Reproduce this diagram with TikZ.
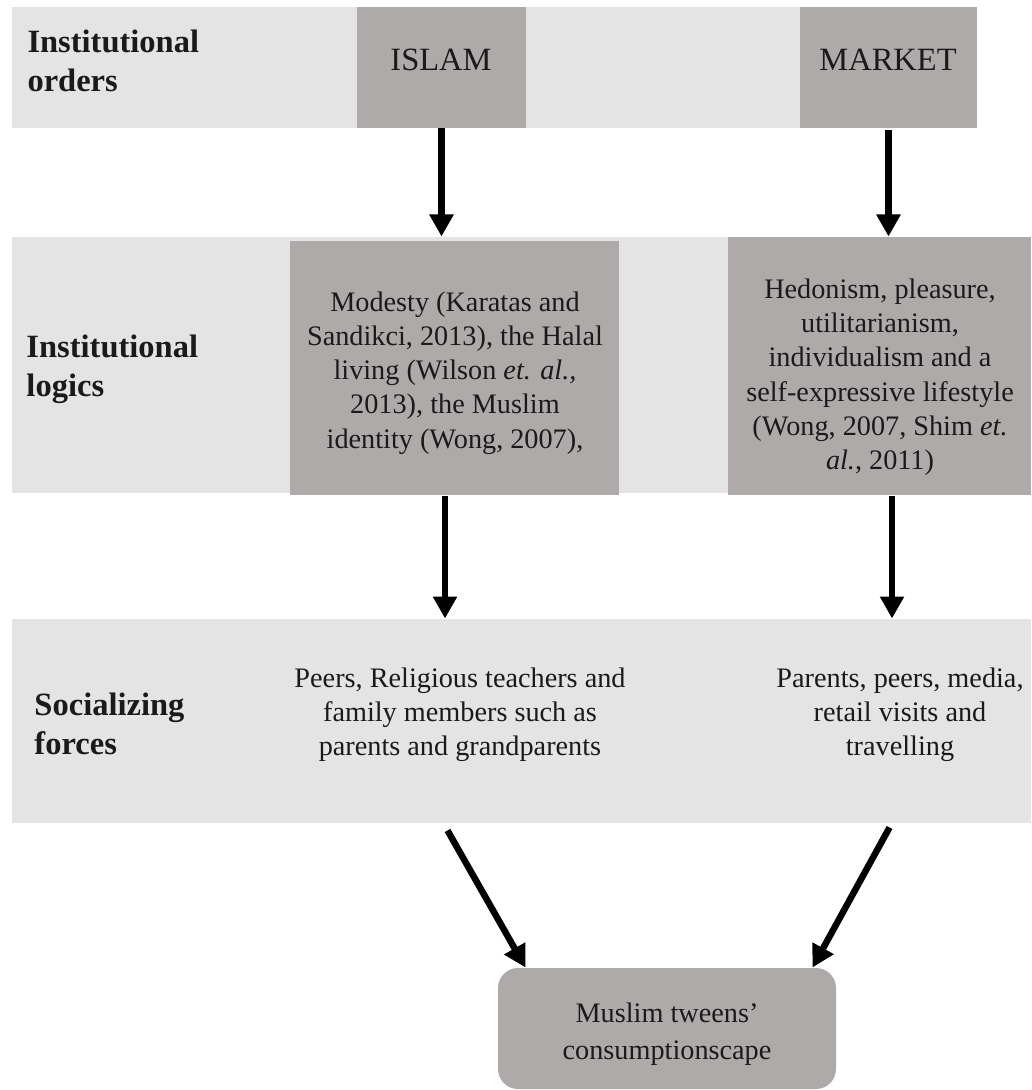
\documentclass[tikz,border=0pt]{standalone}
\usepackage{fontspec}
\setmainfont{Liberation Serif}
\usetikzlibrary{fit,calc,arrows.meta}

\definecolor{bandgray}{HTML}{E4E4E4}
\definecolor{boxgray}{HTML}{AEAAAA}
\definecolor{inkc}{HTML}{1A1A1A}

\tikzset{
  band/.style={inner sep=0pt, fill=bandgray},
  darkbox/.style={inner sep=0pt, fill=boxgray},
  % multi-line texts are placed by the baseline of their last line
  rowlabel/.style={anchor=base west, align=left, inner sep=0pt, text=inkc,
    font=\fontsize{13}{15.6}\selectfont\bfseries},
  ordertext/.style={anchor=base, inner sep=0pt, text=inkc,
    font=\fontsize{13}{15.6}\selectfont},
  bodytext/.style={anchor=base, align=center, inner sep=0pt, text=inkc,
    font=\fontsize{11.3}{13.6}\selectfont},
  arr/.style={-{Triangle[width=9.2pt,length=8.8pt]}, line width=2.6pt, black},
}

\begin{document}
\begin{tikzpicture}[x=0.4pt,y=-0.4pt]
  \useasboundingbox (0,0) rectangle (1031,1090);

  % row bands
  \node[band, fit={(12,7) (977,128)}] (ordband) {};
  \node[band, fit={(12,237) (1031,493)}] (logband) {};
  \node[band, fit={(12,619) (1031,823)}] (socband) {};

  % institutional orders
  \node[darkbox, fit={(357,7) (526,128)}] (islam) {};
  \node[darkbox, fit={(800,7) (977,128)}] (market) {};
  \node[ordertext] (islamtxt) at (441,71) {ISLAM};
  \node[ordertext] (markettxt) at (888,71) {MARKET};

  % institutional logics
  \node[darkbox, fit={(290,241) (619,495)}] (islamlogic) {};
  \node[darkbox, fit={(728,237) (1031,495)}] (marketlogic) {};
  \node[bodytext] (islamlogictxt) at (455,448)
    {Modesty (Karatas and\\Sandikci, 2013), the Halal\\living (Wilson \textit{et. al.,}\\2013), the Muslim\\identity (Wong, 2007),};
  \node[bodytext] (marketlogictxt) at (880,469)
    {Hedonism, pleasure,\\utilitarianism,\\individualism and a\\self-expressive lifestyle\\(Wong, 2007, Shim \textit{et.}\\\textit{al.}, 2011)};

  % socializing forces
  \node[bodytext] (islamsoc) at (460,755)
    {Peers, Religious teachers and\\family members such as\\parents and grandparents};
  \node[bodytext] (marketsoc) at (900,755)
    {Parents, peers, media,\\retail visits and\\travelling};

  % row labels
  \node[rowlabel] (lblorders) at (27,92) {Institutional\\orders};
  \node[rowlabel] (lbllogics) at (26,397) {Institutional\\logics};
  \node[rowlabel] (lblforces) at (34,754) {Socializing\\forces};

  % outcome
  \node[darkbox, rounded corners=8pt, fit={(498,968) (836,1089)}] (scape) {};
  \node[bodytext, font=\fontsize{11.3}{14.8}\selectfont] (scapetxt) at (667,1059)
    {Muslim tweens’\\consumptionscape};

  % connectors
  \draw[arr] (islam.south) -- (islam.south |- logband.north);
  \draw[arr] ([yshift=-0.8pt]market.south) -- (market.south |- logband.north);
  \draw[arr] ([xshift=-3.8pt]islamlogic.south) -- ([xshift=-3.8pt]islamlogic.south |- socband.north);
  \draw[arr] ([xshift=5pt]marketlogic.south) -- ([xshift=5pt]marketlogic.south |- socband.north);
  \draw[arr] ($(socband.south west)+(436,7)$) -- ([xshift=11.2pt]scape.north west);
  \draw[arr] ($(socband.south west)+(878,4)$) -- ([xshift=-9.6pt]scape.north east);
\end{tikzpicture}
\end{document}
